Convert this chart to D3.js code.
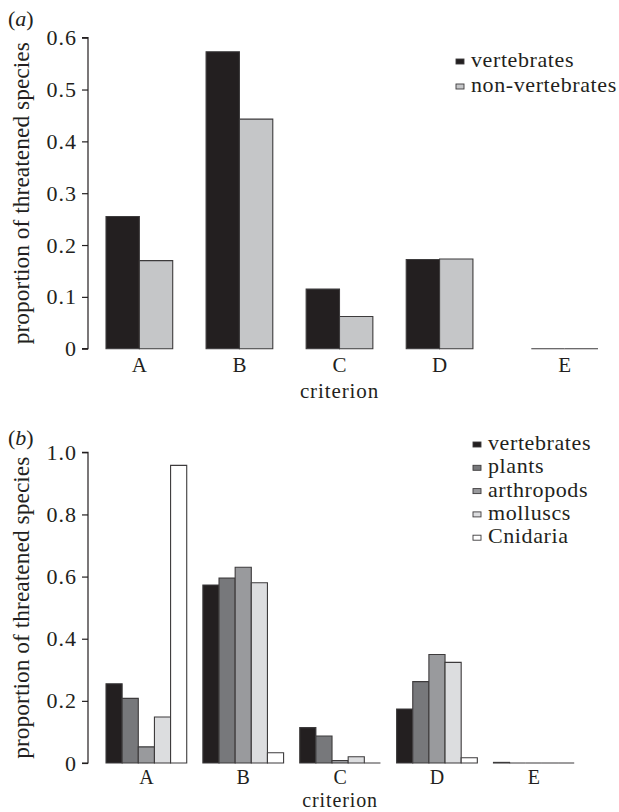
<!DOCTYPE html>
<html>
<head>
<meta charset="utf-8">
<script src="https://cdn.jsdelivr.net/npm/d3@7"></script>
<style>
  body { margin: 0; background: #fff; }
  text { font-family: "Liberation Serif", "Times New Roman", serif; fill: #231f20; }
</style>
</head>
<body>
<svg id="chart" width="619" height="812"></svg>
<script>
// criteria on the x axis
const criteria = ["A", "B", "C", "D", "E"];

// panel (a)
const seriesA = ["vertebrates", "non-vertebrates"];
const vertebratesA = [0.255, 0.573, 0.115, 0.172, 0];
const nonVertebratesA = [0.170, 0.443, 0.062, 0.173, 0];
const ticksA = [0, 0.1, 0.2, 0.3, 0.4, 0.5, 0.6];

// panel (b)
const seriesB = ["vertebrates", "plants", "arthropods", "molluscs", "Cnidaria"];
const vertebratesB = [0.255, 0.573, 0.114, 0.174, 0.002];
const plantsB = [0.208, 0.595, 0.087, 0.262, 0];
const arthropodsB = [0.052, 0.630, 0.008, 0.349, 0];
const molluscsB = [0.148, 0.580, 0.020, 0.324, 0];
const cnidariaB = [0.958, 0.033, 0, 0.017, 0];
const ticksB = [0, 0.2, 0.4, 0.6, 0.8, 1.0];

const colours = {
  "vertebrates": "#231f20",
  "non-vertebrates": "#c5c6c8",
  "plants": "#77787b",
  "arthropods": "#999a9d",
  "molluscs": "#dcdddf",
  "Cnidaria": "#ffffff"
};
const edge = "#3d3b3c";

const svg = d3.select("#chart");

function panel(opt) {
  const g = svg.append("g");
  const rows = criteria.map((c, i) => {
    const r = { crit: c };
    opt.series.forEach((s, j) => r[s] = opt.values[j][i]);
    return r;
  });

  const x = d3.scaleBand()
    .domain(criteria)
    .range([opt.left, opt.right])
    .paddingInner(opt.gap)
    .paddingOuter(0);
  const xs = d3.scaleBand()
    .domain(opt.series)
    .range([0, x.bandwidth()]);
  const y = d3.scaleLinear()
    .domain([0, opt.max])
    .range([opt.bottom, opt.top]);

  // shift of the last group, as in the original layout
  const gx = c => x(c) + (c === "E" ? opt.lastShift : 0);

  // y axis
  const axis = g.append("g")
    .attr("transform", `translate(${opt.axisX},0)`)
    .call(d3.axisLeft(y).tickValues(opt.ticks).tickSize(6).tickPadding(5)
      .tickFormat(d => d === 0 ? "0" : d3.format(".1f")(d)));
  axis.select(".domain").attr("d", `M-6,${y(opt.max)}H0V${y(0)}H-6`)
    .attr("stroke", "#231f20").attr("stroke-width", 1.2);
  axis.selectAll(".tick line").attr("stroke", "#231f20").attr("stroke-width", 1.2);
  axis.selectAll(".tick text")
    .style("font-family", '"Liberation Serif", serif')
    .style("font-size", "22px")
    .style("letter-spacing", "1px")
    .attr("fill", "#231f20");

  // bars
  const grp = g.selectAll("g.grp")
    .data(rows)
    .join("g")
    .attr("class", "grp")
    .attr("transform", d => `translate(${gx(d.crit)},0)`);

  grp.selectAll("path")
    .data(d => opt.series.map(s => ({ key: s, value: d[s] })))
    .join("path")
    .attr("d", d => {
      const x0 = xs(d.key), w = xs.bandwidth();
      const y0 = y(0), y1 = y(d.value);
      return `M${x0},${y0}V${y1}H${x0 + w}V${y0}Z`;
    })
    .attr("fill", d => colours[d.key])
    .attr("stroke", edge)
    .attr("stroke-width", 1.1);

  // category labels
  g.selectAll("text.cat")
    .data(criteria)
    .join("text")
    .attr("class", "cat")
    .attr("x", c => gx(c) + x.bandwidth() / 2)
    .attr("y", y(0) + opt.catDy)
    .attr("text-anchor", "middle")
    .style("font-size", opt.labelSize + "px")
    .text(c => c);

  g.append("text")
    .attr("x", x("C") + x.bandwidth() / 2)
    .attr("y", y(0) + opt.critDy)
    .attr("text-anchor", "middle")
    .style("font-size", opt.labelSize + "px")
    .style("letter-spacing", "0.9px")
    .text("criterion");

  // y title
  g.append("text")
    .attr("transform", `translate(29,${(y(0) + y(opt.max)) / 2}) rotate(-90)`)
    .attr("text-anchor", "middle")
    .style("font-size", "23.5px")
    .text("proportion of threatened species");

  // panel tag
  const tag = g.append("text")
    .attr("x", 8)
    .attr("y", opt.tagY)
    .style("font-size", "22px");
  tag.append("tspan").text("(");
  tag.append("tspan").style("font-style", "italic").text(opt.tag);
  tag.append("tspan").text(")");

  // legend
  const leg = g.selectAll("g.leg")
    .data(opt.series)
    .join("g")
    .attr("class", "leg")
    .attr("transform", (s, i) => `translate(${opt.legX},${opt.legY + i * opt.legStep})`);
  leg.append("rect")
    .attr("x", 0).attr("y", -8)
    .attr("width", 8).attr("height", 5)
    .attr("fill", s => colours[s])
    .attr("stroke", edge).attr("stroke-width", 0.9);
  leg.append("text")
    .attr("x", 15)
    .attr("y", 0)
    .style("font-size", "22px")
    .style("letter-spacing", "0.6px")
    .text(s => s);
}

panel({
  series: seriesA,
  values: [vertebratesA, nonVertebratesA],
  ticks: ticksA,
  max: 0.6,
  left: 106, right: 573, gap: 1 / 3, lastShift: 25,
  top: 37.7, bottom: 348.7, axisX: 88,
  catDy: 23, critDy: 49, labelSize: 21,
  tag: "a", tagY: 26,
  legX: 456, legY: 67, legStep: 25
});

panel({
  series: seriesB,
  values: [vertebratesB, plantsB, arthropodsB, molluscsB, cnidariaB],
  ticks: ticksB,
  max: 1.0,
  left: 106, right: 574.2, gap: 1 / 6, lastShift: 0,
  top: 452.3, bottom: 763, axisX: 88,
  catDy: 21, critDy: 43.5, labelSize: 20,
  tag: "b", tagY: 445,
  legX: 473, legY: 450, legStep: 23.3
});
</script>
</body>
</html>
